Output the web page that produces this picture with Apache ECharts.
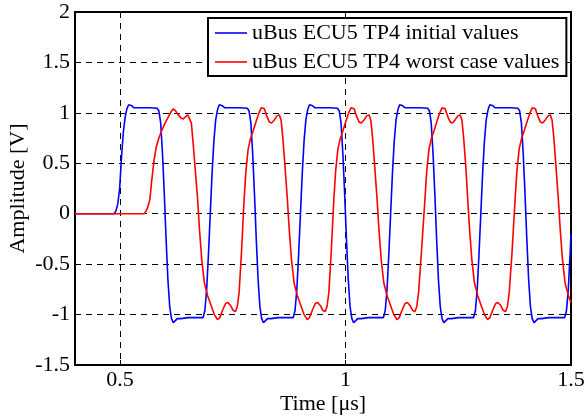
<!DOCTYPE html>
<html>
<head>
<meta charset="utf-8">
<script src="https://cdn.jsdelivr.net/npm/echarts@6/dist/echarts.min.js"></script>
<style>html,body{margin:0;padding:0;background:#fff;}#c{width:586px;height:419px;}</style>
</head>
<body>
<div id="c"></div>
<script>
// Data (time in µs, amplitude in V)
const seriesNames = ['uBus ECU5 TP4 initial values', 'uBus ECU5 TP4 worst case values'];
const xTickValues = [0.5, 1, 1.5];
const yRange = [-1.5, 2];
const xRange = [0.4, 1.5];

const blueWave = [
[0.400,0],[0.487,0],[0.491,0.03],[0.495,0.1],[0.499,0.25],[0.503,0.55],[0.507,0.8],[0.511,0.95],[0.515,1.04],[0.519,1.08],[0.522,1.09],[0.526,1.07],[0.531,1.05],[0.545,1.05],[0.565,1.05],[0.582,1.045],[0.586,1.02],[0.590,0.9],[0.594,0.6],[0.598,0.2],[0.602,-0.25],[0.606,-0.65],[0.610,-0.92],[0.614,-1.04],[0.618,-1.08],[0.622,-1.07],[0.627,-1.04],[0.635,-1.04],[0.650,-1.03],[0.670,-1.03],[0.684,-1.03],
[0.688,-0.96],[0.692,-0.75],[0.696,-0.4],[0.700,0],[0.704,0.4],[0.708,0.72],[0.712,0.93],[0.716,1.03],[0.720,1.08],[0.723,1.09],[0.727,1.07],[0.732,1.05],[0.745,1.05],[0.765,1.05],[0.782,1.045],[0.786,1.02],[0.790,0.9],[0.794,0.6],[0.798,0.2],[0.802,-0.25],[0.806,-0.65],[0.810,-0.92],[0.814,-1.04],[0.818,-1.08],[0.822,-1.07],[0.827,-1.04],[0.835,-1.04],[0.850,-1.03],[0.870,-1.03],[0.884,-1.03],
[0.888,-0.96],[0.892,-0.75],[0.896,-0.4],[0.900,0],[0.904,0.4],[0.908,0.72],[0.912,0.93],[0.916,1.03],[0.920,1.08],[0.923,1.09],[0.927,1.07],[0.932,1.05],[0.945,1.05],[0.965,1.05],[0.982,1.045],[0.986,1.02],[0.990,0.9],[0.994,0.6],[0.998,0.2],[1.002,-0.25],[1.006,-0.65],[1.010,-0.92],[1.014,-1.04],[1.018,-1.08],[1.022,-1.07],[1.027,-1.04],[1.035,-1.04],[1.050,-1.03],[1.070,-1.03],[1.084,-1.03],
[1.088,-0.96],[1.092,-0.75],[1.096,-0.4],[1.100,0],[1.104,0.4],[1.108,0.72],[1.112,0.93],[1.116,1.03],[1.120,1.08],[1.123,1.09],[1.127,1.07],[1.132,1.05],[1.145,1.05],[1.165,1.05],[1.182,1.045],[1.186,1.02],[1.190,0.9],[1.194,0.6],[1.198,0.2],[1.202,-0.25],[1.206,-0.65],[1.210,-0.92],[1.214,-1.04],[1.218,-1.08],[1.222,-1.07],[1.227,-1.04],[1.235,-1.04],[1.250,-1.03],[1.270,-1.03],[1.284,-1.03],
[1.288,-0.96],[1.292,-0.75],[1.296,-0.4],[1.300,0],[1.304,0.4],[1.308,0.72],[1.312,0.93],[1.316,1.03],[1.320,1.08],[1.323,1.09],[1.327,1.07],[1.332,1.05],[1.345,1.05],[1.365,1.05],[1.382,1.045],[1.386,1.02],[1.390,0.9],[1.394,0.6],[1.398,0.2],[1.402,-0.25],[1.406,-0.65],[1.410,-0.92],[1.414,-1.04],[1.418,-1.08],[1.422,-1.07],[1.427,-1.04],[1.435,-1.04],[1.450,-1.03],[1.470,-1.03],[1.486,-1.03],
[1.490,-0.96],[1.494,-0.75],[1.498,-0.4],[1.500,-0.2]
];

const redWave = [
[0.400,0],[0.553,0],[0.557,0.02],[0.561,0.06],[0.566,0.14],[0.570,0.32],[0.575,0.52],[0.580,0.66],[0.586,0.75],[0.593,0.83],[0.600,0.9],[0.607,0.96],[0.613,1.01],[0.618,1.04],[0.623,1.02],[0.629,0.98],[0.635,0.95],[0.640,0.94],[0.645,0.96],[0.650,0.98],[0.654,0.97],[0.658,0.9],[0.662,0.7],[0.667,0.42],[0.672,0.14],
[0.676,-0.15],[0.681,-0.45],[0.687,-0.69],[0.694,-0.81],[0.701,-0.9],[0.709,-1.0],[0.716,-1.05],[0.721,-1.03],[0.728,-0.95],[0.734,-0.89],[0.739,-0.88],[0.745,-0.91],[0.751,-0.96],[0.756,-0.97],[0.760,-0.92],[0.764,-0.78],[0.769,-0.4],[0.775,0.14],
[0.779,0.42],[0.784,0.64],[0.789,0.74],[0.795,0.82],[0.802,0.92],[0.808,1.0],[0.813,1.05],[0.816,1.06],[0.820,1.04],[0.826,0.96],[0.831,0.91],[0.836,0.9],[0.842,0.93],[0.848,0.97],[0.853,0.98],[0.857,0.93],[0.861,0.75],[0.866,0.45],[0.871,0.14],
[0.875,-0.15],[0.880,-0.45],[0.886,-0.69],[0.893,-0.81],[0.900,-0.9],[0.908,-1.0],[0.915,-1.05],[0.920,-1.03],[0.927,-0.95],[0.933,-0.89],[0.938,-0.88],[0.944,-0.91],[0.950,-0.96],[0.955,-0.97],[0.959,-0.92],[0.963,-0.78],[0.968,-0.4],[0.974,0.14],
[0.978,0.42],[0.983,0.64],[0.988,0.74],[0.994,0.82],[1.001,0.92],[1.007,1.0],[1.012,1.05],[1.015,1.06],[1.019,1.04],[1.025,0.96],[1.030,0.91],[1.035,0.9],[1.041,0.93],[1.047,0.97],[1.052,0.98],[1.056,0.93],[1.060,0.75],[1.065,0.45],[1.070,0.14],
[1.074,-0.15],[1.079,-0.45],[1.085,-0.69],[1.092,-0.81],[1.099,-0.9],[1.107,-1.0],[1.114,-1.05],[1.119,-1.03],[1.126,-0.95],[1.132,-0.89],[1.137,-0.88],[1.143,-0.91],[1.149,-0.96],[1.154,-0.97],[1.158,-0.92],[1.162,-0.78],[1.168,-0.4],[1.176,0.14],
[1.180,0.42],[1.185,0.64],[1.190,0.74],[1.196,0.82],[1.203,0.92],[1.209,1.0],[1.214,1.05],[1.217,1.06],[1.221,1.04],[1.227,0.96],[1.232,0.91],[1.237,0.9],[1.243,0.93],[1.249,0.97],[1.254,0.98],[1.258,0.93],[1.262,0.75],[1.267,0.45],[1.271,0.14],
[1.275,-0.15],[1.280,-0.45],[1.286,-0.69],[1.293,-0.81],[1.300,-0.9],[1.308,-1.0],[1.315,-1.05],[1.320,-1.03],[1.327,-0.95],[1.333,-0.89],[1.338,-0.88],[1.344,-0.91],[1.350,-0.96],[1.355,-0.97],[1.359,-0.92],[1.363,-0.78],[1.369,-0.4],[1.376,0.14],
[1.380,0.42],[1.385,0.64],[1.390,0.74],[1.396,0.82],[1.403,0.92],[1.409,1.0],[1.414,1.05],[1.417,1.06],[1.421,1.04],[1.427,0.96],[1.432,0.91],[1.437,0.9],[1.443,0.93],[1.449,0.97],[1.454,0.98],[1.458,0.93],[1.462,0.75],[1.467,0.45],[1.472,0.14],
[1.476,-0.15],[1.481,-0.45],[1.487,-0.69],[1.494,-0.81],[1.500,-0.88]
];

const FONT = '"Liberation Serif", "Times New Roman", serif';
const chart = echarts.init(document.getElementById('c'), null, {renderer: 'canvas'});
const axisLineStyle = {color: '#000', width: 2};
const gridLineStyle = {color: '#000', width: 1, type: [6, 5]};
const textStyle = {fontFamily: FONT, fontSize: 22, color: '#000'};

chart.setOption({
  animation: false,
  backgroundColor: '#fff',
  grid: {left: 75, right: 15, top: 12, bottom: 54, containLabel: false, outerBoundsMode: 'none'},
  legend: {
    data: seriesNames,
    orient: 'vertical',
    left: 208, top: 18,
    padding: [4, 7, 3, 7],
    itemGap: 7,
    icon: 'rect',
    itemWidth: 32, itemHeight: 1.6,
    borderColor: '#000', borderWidth: 2, borderRadius: 0,
    backgroundColor: '#fff',
    textStyle: textStyle,
    selectedMode: false
  },
  xAxis: [{
    type: 'value', min: xRange[0], max: xRange[1], position: 'bottom',
    axisLine: {show: true, onZero: false, lineStyle: axisLineStyle},
    axisTick: {show: true, inside: true, length: 5, customValues: xTickValues, lineStyle: {color: '#000', width: 1}},
    axisLabel: {customValues: xTickValues, margin: 4, ...textStyle},
    splitLine: {show: true, lineStyle: gridLineStyle},
    name: 'Time [μs]', nameLocation: 'middle', nameGap: 28, nameMoveOverlap: false,
    nameTextStyle: textStyle
  }, {
    type: 'value', min: xRange[0], max: xRange[1], position: 'top',
    axisLine: {show: true, onZero: false, lineStyle: axisLineStyle},
    axisTick: {show: true, inside: true, length: 5, customValues: xTickValues, lineStyle: {color: '#000', width: 1}},
    axisLabel: {show: false},
    splitLine: {show: false}
  }],
  yAxis: [{
    type: 'value', min: yRange[0], max: yRange[1], interval: 0.5, position: 'left',
    axisLine: {show: true, onZero: false, lineStyle: axisLineStyle},
    axisTick: {show: true, inside: true, length: 5, lineStyle: {color: '#000', width: 1}},
    axisLabel: {margin: 5, ...textStyle},
    splitLine: {show: true, lineStyle: gridLineStyle},
    name: 'Amplitude [V]', nameLocation: 'middle', nameGap: 46, nameRotate: 90, nameMoveOverlap: false,
    nameTextStyle: textStyle
  }, {
    type: 'value', min: yRange[0], max: yRange[1], interval: 0.5, position: 'right',
    axisLine: {show: true, onZero: false, lineStyle: axisLineStyle},
    axisTick: {show: true, inside: true, length: 5, lineStyle: {color: '#000', width: 1}},
    axisLabel: {show: false},
    splitLine: {show: false}
  }],
  series: [{
    name: seriesNames[0], type: 'line', xAxisIndex: 0, yAxisIndex: 0,
    data: blueWave, symbol: 'none', smooth: false,
    lineStyle: {color: '#0000ff', width: 1.6}, itemStyle: {color: '#0000ff'}
  }, {
    name: seriesNames[1], type: 'line', xAxisIndex: 0, yAxisIndex: 0,
    data: redWave, symbol: 'none', smooth: false,
    lineStyle: {color: '#ff0000', width: 1.6}, itemStyle: {color: '#ff0000'}
  }]
});
</script>
</body>
</html>
